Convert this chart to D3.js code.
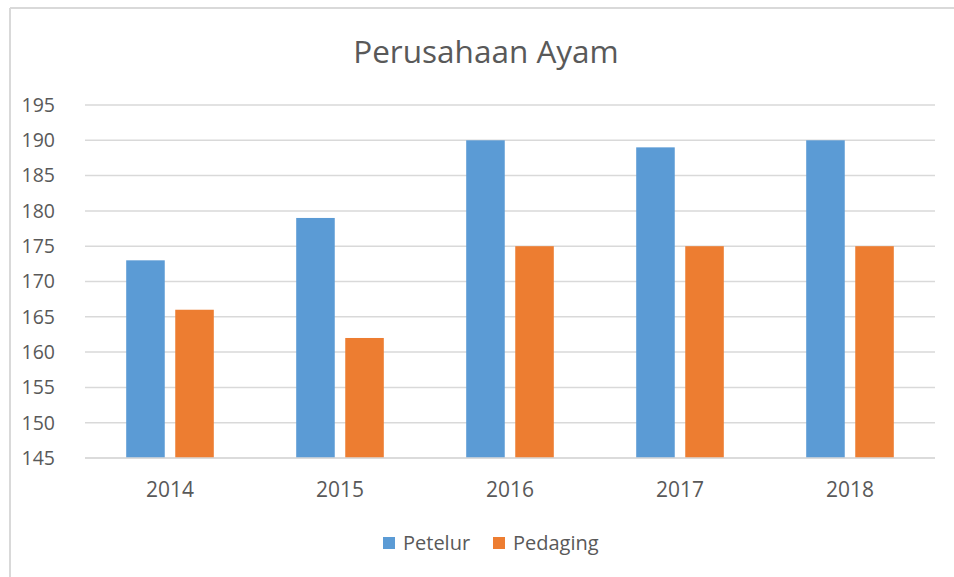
<!DOCTYPE html>
<html>
<head>
<meta charset="utf-8">
<script src="https://cdn.jsdelivr.net/npm/d3@7"></script>
<style>
  body { margin: 0; background: #fff; }
  svg { display: block; }
  text { font-family: "Open Sans", "Noto Sans", sans-serif; fill: #595959; }
</style>
</head>
<body>
<svg id="chart" width="954" height="577"></svg>
<script>
// chart data
const years = ["2014", "2015", "2016", "2017", "2018"];
const seriesNames = ["Petelur", "Pedaging"];
const petelur = [173, 179, 190, 189, 190];
const pedaging = [166, 162, 175, 175, 175];
const yTicks = [145, 150, 155, 160, 165, 170, 175, 180, 185, 190, 195];

const colors = d3.scaleOrdinal().domain(seriesNames).range(["#5B9BD5", "#ED7D31"]);

const svg = d3.select("#chart");
const W = 954, H = 577;
const plot = { left: 85, right: 935, top: 105, bottom: 458 };

// frame (only top and left edges are visible in the screenshot)
svg.append("line").attr("x1", 10).attr("x2", W).attr("y1", 8).attr("y2", 8)
  .style("stroke", "#d9d9d9").style("stroke-width", 2);
svg.append("line").attr("x1", 10).attr("x2", 10).attr("y1", 8).attr("y2", H)
  .style("stroke", "#d9d9d9").style("stroke-width", 2);

// title
svg.append("text")
  .attr("x", 486).attr("y", 52)
  .attr("dy", "0.35em")
  .attr("text-anchor", "middle")
  .style("font-size", "31.5px")
  .text("Perusahaan Ayam");

var y = d3.scaleLinear().domain([145, 195]).range([plot.bottom, plot.top]);
var x0 = d3.scaleBand().domain(years).range([plot.left, plot.right]);
var x1 = d3.scaleBand().domain(seriesNames).range([0, x0.bandwidth()])
  .paddingInner(0.214).paddingOuter(0.84);

// gridlines
svg.append("g").selectAll("line")
  .data(yTicks)
  .enter().append("line")
  .attr("x1", plot.left).attr("x2", plot.right)
  .attr("y1", d => y(d)).attr("y2", d => y(d))
  .style("stroke", "#d9d9d9").style("stroke-width", 1.5);

// y tick labels
svg.append("g").selectAll("text")
  .data(yTicks)
  .enter().append("text")
  .attr("x", 55).attr("y", d => y(d))
  .attr("dy", "0.35em")
  .attr("text-anchor", "end")
  .style("font-size", "19.5px")
  .text(d => d);

// bars
var groups = svg.append("g").selectAll("g")
  .data(years)
  .enter().append("g")
  .attr("transform", d => "translate(" + x0(d) + ",0)");

groups.selectAll("rect")
  .data((d, i) => [{ s: "Petelur", v: petelur[i] }, { s: "Pedaging", v: pedaging[i] }])
  .enter().append("rect")
  .attr("x", d => x1(d.s))
  .attr("width", x1.bandwidth())
  .attr("y", d => y(d.v))
  .attr("height", d => y(145) - y(d.v))
  .style("fill", d => colors(d.s));

// x axis line
svg.append("line").attr("x1", plot.left).attr("x2", plot.right)
  .attr("y1", plot.bottom).attr("y2", plot.bottom)
  .style("stroke", "#d9d9d9").style("stroke-width", 1.5);

// x labels
svg.append("g").selectAll("text")
  .data(years)
  .enter().append("text")
  .attr("x", d => x0(d) + x0.bandwidth() / 2)
  .attr("y", 490)
  .attr("dy", "0.35em")
  .attr("text-anchor", "middle")
  .style("font-size", "21px")
  .text(d => d);

// legend
var legendX = [383, 493];
var legend = svg.append("g").selectAll("g")
  .data(seriesNames)
  .enter().append("g")
  .attr("transform", (d, i) => "translate(" + legendX[i] + ",543)");

legend.append("rect")
  .attr("x", 0).attr("y", -6)
  .attr("width", 12).attr("height", 12)
  .style("fill", d => colors(d));

legend.append("text")
  .attr("x", 20).attr("y", 0)
  .attr("dy", "0.35em")
  .style("font-size", "20px")
  .text(d => d);
</script>
</body>
</html>
